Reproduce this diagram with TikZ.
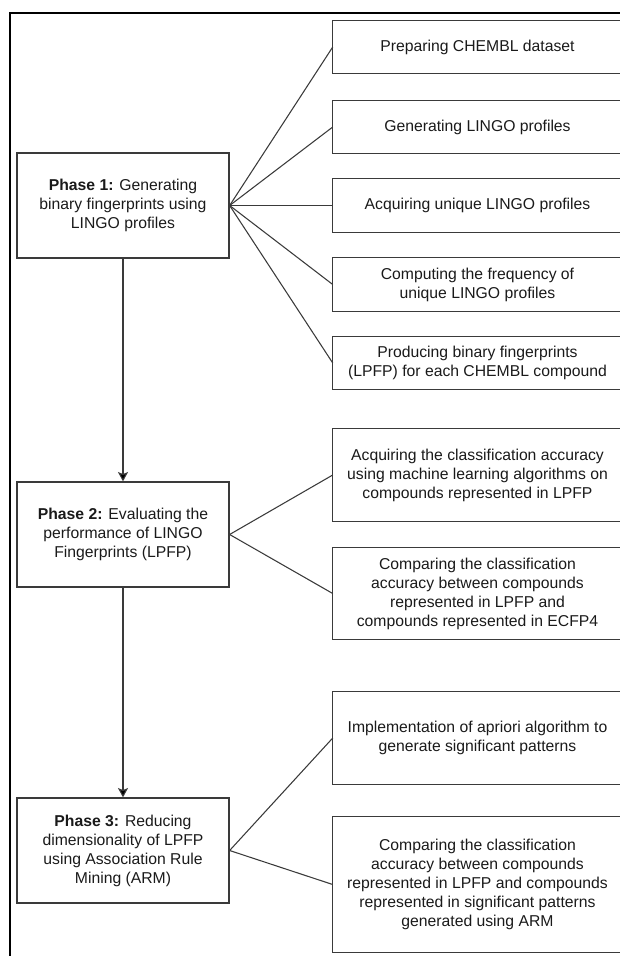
\documentclass[tikz,border=0pt]{standalone}
\usepackage{fontspec}
\setmainfont{Liberation Sans}
\usetikzlibrary{arrows.meta,calc}
\definecolor{boxline}{HTML}{3A3A3A}
\definecolor{txt}{HTML}{1A1A1A}
\tikzset{
  phasebox/.style={draw=boxline, line width=0.95pt, rectangle, align=center, inner sep=0pt,
    minimum width=159pt, minimum height=78.75pt, text=txt,
    font=\fontsize{11.8pt}{14.25pt}\selectfont},
  taskbox/.style={rectangle, align=center, inner sep=0pt,
    minimum width=216.75pt, text=txt,
    font=\fontsize{11.8pt}{14.25pt}\selectfont},
  taskedge/.style={draw=boxline, line width=0.95pt},
  fan/.style={draw=boxline, line width=0.8pt},
  flow/.style={draw=boxline, line width=0.8pt, -{Stealth[length=7pt,width=7.5pt,inset=1.5pt,fill=black]}},
  frameline/.style={draw=black, line width=1.7pt}
}
\begin{document}
\begin{tikzpicture}[x=0.75pt, y=-0.75pt]
\useasboundingbox (0,0) rectangle (620,956);
\clip (0,0) rectangle (620,956);
% outer frame (only top and left visible)
\coordinate (fTL) at (10,13);
\coordinate (fTR) at (640,13);
\coordinate (fBL) at (10,980);
\draw[frameline] (fTR) -- (fTL) -- (fBL);

% phase boxes
\node[phasebox] (p1) at (123,205.5) {\textbf{Phase 1:} Generating\\binary fingerprints using\\LINGO profiles};
\node[phasebox] (p2) at (123,534.5) {\textbf{Phase 2:} Evaluating the\\performance of LINGO\\Fingerprints (LPFP)};
\node[phasebox] (p3) at (123,850.5) {\textbf{Phase 3:} Reducing\\dimensionality of LPFP\\using Association Rule\\Mining (ARM)};

% task boxes (their right side runs past the edge of the picture)
\node[taskbox, minimum height=39pt] (b1) at (477.5,47) {Preparing CHEMBL dataset};
\node[taskbox, minimum height=39pt] (b2) at (477.5,127) {Generating LINGO profiles};
\node[taskbox, minimum height=39.75pt] (b3) at (477.5,205.5) {Acquiring unique LINGO profiles};
\node[taskbox, minimum height=39.75pt] (b4) at (477.5,284.5) {Computing the frequency of\\unique LINGO profiles};
\node[taskbox, minimum height=39pt] (b5) at (477.5,363) {Producing binary fingerprints\\(LPFP) for each CHEMBL compound};
\node[taskbox, minimum height=69pt] (b6) at (477.5,475) {Acquiring the classification accuracy\\using machine learning algorithms on\\compounds represented in LPFP};
\node[taskbox, minimum height=68.25pt] (b7) at (477.5,593.5) {Comparing the classification\\accuracy between compounds\\represented in LPFP and\\compounds represented in ECFP4};
\node[taskbox, minimum height=69pt] (b8) at (477.5,738) {Implementation of apriori algorithm to\\generate significant patterns};
\node[taskbox, minimum height=101.25pt] (b9) at (477.5,884.5) {Comparing the classification\\accuracy between compounds\\represented in LPFP and compounds\\represented in significant patterns\\generated using ARM};

\foreach \b in {b1,b2,b3,b4,b5,b6,b7,b8,b9}
  \draw[taskedge] ($(\b.north east)+(20,0)$) -- (\b.north west) -- (\b.south west) -- ($(\b.south east)+(20,0)$);

% fan connectors
\foreach \b in {b1,b2,b3,b4,b5} \draw[fan] (p1.east) -- (\b.west);
\foreach \b in {b6,b7} \draw[fan] (p2.east) -- (\b.west);
\foreach \b in {b8,b9} \draw[fan] (p3.east) -- (\b.west);

% flow arrows
\draw[flow] (p1.south) -- (p2.north);
\draw[flow] (p2.south) -- (p3.north);
\end{tikzpicture}
\end{document}
